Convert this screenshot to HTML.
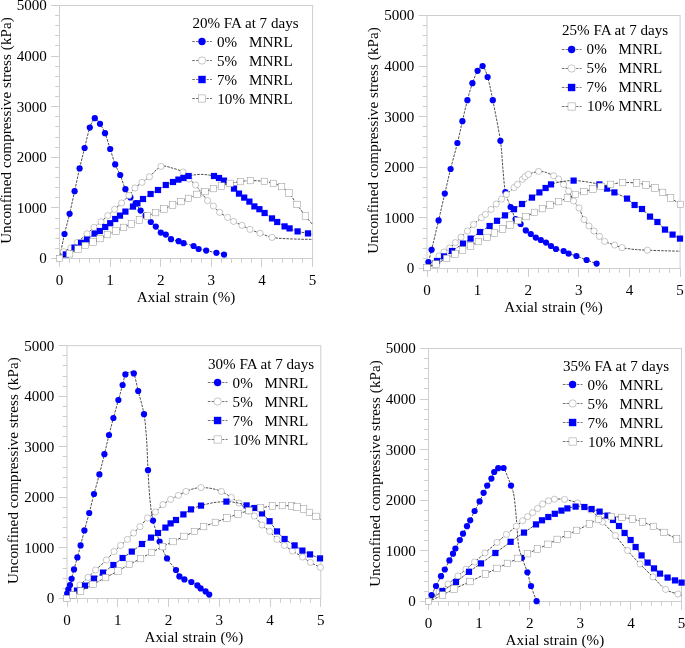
<!DOCTYPE html>
<html><head><meta charset="utf-8"><title>UCS vs axial strain</title>
<style>
html,body{margin:0;padding:0;background:#fff;}
body{width:685px;height:648px;overflow:hidden;}
svg{display:block;will-change:transform;}
text{font-family:"Liberation Serif",serif;font-size:15.1px;fill:#000;}
.ln{fill:none;stroke:#000;stroke-width:0.7;stroke-dasharray:2.55 1.15;}
.ll{fill:none;stroke:#000;stroke-width:0.55;stroke-dasharray:2.7 1.1;}
.lr{fill:none;stroke:#000;stroke-width:0.55;stroke-dasharray:2.2 1.2;}
.om{fill:#fff;stroke:#858585;stroke-width:0.45;}
</style></head><body>
<svg width="685" height="648" viewBox="0 0 685 648">
<rect width="685" height="648" fill="#fff"/>
<g><rect x="59.5" y="5.5" width="253.1" height="253" fill="none" stroke="#cecece" stroke-width="1"/>
<path d="M59.5 258.5h-8.4M59.5 258.5v8.4M59.5 248.5h-4.3M69.5 258.5v4.3M59.5 238.5h-4.3M79.5 258.5v4.3M59.5 228.5h-4.3M89.5 258.5v4.3M59.5 218.5h-4.3M99.5 258.5v4.3M59.5 207.5h-8.4M110.5 258.5v8.4M59.5 197.5h-4.3M120.5 258.5v4.3M59.5 187.5h-4.3M130.5 258.5v4.3M59.5 177.5h-4.3M140.5 258.5v4.3M59.5 167.5h-4.3M150.5 258.5v4.3M59.5 157.5h-8.4M160.5 258.5v8.4M59.5 147.5h-4.3M170.5 258.5v4.3M59.5 137.5h-4.3M180.5 258.5v4.3M59.5 126.5h-4.3M191.5 258.5v4.3M59.5 116.5h-4.3M201.5 258.5v4.3M59.5 106.5h-8.4M211.5 258.5v8.4M59.5 96.5h-4.3M221.5 258.5v4.3M59.5 86.5h-4.3M231.5 258.5v4.3M59.5 76.5h-4.3M241.5 258.5v4.3M59.5 66.5h-4.3M251.5 258.5v4.3M59.5 56.5h-8.4M261.5 258.5v8.4M59.5 45.5h-4.3M272.5 258.5v4.3M59.5 35.5h-4.3M282.5 258.5v4.3M59.5 25.5h-4.3M292.5 258.5v4.3M59.5 15.5h-4.3M302.5 258.5v4.3M59.5 5.5h-8.4M312.5 258.5v8.4" stroke="#cecece" stroke-width="1" fill="none"/>
<text x="46.9" y="263.4" text-anchor="end">0</text>
<text x="59.5" y="285.1" text-anchor="middle">0</text>
<text x="46.9" y="212.8" text-anchor="end">1000</text>
<text x="110.12" y="285.1" text-anchor="middle">1</text>
<text x="46.9" y="162.2" text-anchor="end">2000</text>
<text x="160.74" y="285.1" text-anchor="middle">2</text>
<text x="46.9" y="111.6" text-anchor="end">3000</text>
<text x="211.36" y="285.1" text-anchor="middle">3</text>
<text x="46.9" y="61" text-anchor="end">4000</text>
<text x="261.98" y="285.1" text-anchor="middle">4</text>
<text x="46.9" y="10.4" text-anchor="end">5000</text>
<text x="312.6" y="285.1" text-anchor="middle">5</text>
<text x="186.05" y="301.9" text-anchor="middle" letter-spacing="0.1">Axial strain (%)</text>
<text transform="translate(10.7 130.5) rotate(-90)" text-anchor="middle" letter-spacing="0.07">Unconfined compressive stress (kPa)</text>
<path d="M59.5 258.5C60.3 254.58 62.88 241.15 64.5 234C66.12 226.85 67.98 220.65 69.6 213.8C71.22 206.95 73 198.46 74.6 191.2C76.2 183.94 78 175.31 79.6 168.4C81.2 161.49 82.97 154.53 84.6 148C86.23 141.47 88.17 132.37 89.8 127.6C91.43 122.83 93.17 118.81 94.8 118.2C96.43 117.59 98.37 121.4 100 123.8C101.63 126.2 103.37 129.17 105 133.2C106.63 137.23 108.57 144.01 110.2 149C111.83 153.99 113.6 160.24 115.2 164.4C116.8 168.56 118.57 171.03 120.2 175C121.83 178.97 123.77 185.62 125.4 189.2C127.03 192.78 128.77 195.13 130.4 197.4C132.03 199.67 133.97 201.29 135.6 203.4C137.23 205.51 139 208.65 140.6 210.6C142.2 212.55 143.97 213.78 145.6 215.6C147.23 217.42 149.17 220.24 150.8 222C152.43 223.76 154.2 224.9 155.8 226.6C157.4 228.3 159.2 231.32 160.8 232.6C162.4 233.88 164.17 233.54 165.8 234.6C167.43 235.66 168.95 238.14 171 239.2C173.05 240.26 176.58 240.56 178.6 241.2C180.62 241.84 181.2 242.43 183.6 243.2C186 243.97 191.2 245.07 193.6 246C196 246.93 196.58 248.26 198.6 249C200.62 249.74 203.35 249.99 206.2 250.6C209.05 251.21 213.55 252.16 216.4 252.8C219.25 253.44 222.3 253.77 224 254.6C225.7 255.43 226.52 257.46 227 258" class="ln"/>
<circle cx="64.5" cy="234" r="3.12" fill="#0000ff"/><circle cx="69.6" cy="213.8" r="3.12" fill="#0000ff"/><circle cx="74.6" cy="191.2" r="3.12" fill="#0000ff"/><circle cx="79.6" cy="168.4" r="3.12" fill="#0000ff"/><circle cx="84.6" cy="148" r="3.12" fill="#0000ff"/><circle cx="89.8" cy="127.6" r="3.12" fill="#0000ff"/><circle cx="94.8" cy="118.2" r="3.12" fill="#0000ff"/><circle cx="100" cy="123.8" r="3.12" fill="#0000ff"/><circle cx="105" cy="133.2" r="3.12" fill="#0000ff"/><circle cx="110.2" cy="149" r="3.12" fill="#0000ff"/><circle cx="115.2" cy="164.4" r="3.12" fill="#0000ff"/><circle cx="120.2" cy="175" r="3.12" fill="#0000ff"/><circle cx="125.4" cy="189.2" r="3.12" fill="#0000ff"/><circle cx="130.4" cy="197.4" r="3.12" fill="#0000ff"/><circle cx="135.6" cy="203.4" r="3.12" fill="#0000ff"/><circle cx="140.6" cy="210.6" r="3.12" fill="#0000ff"/><circle cx="145.6" cy="215.6" r="3.12" fill="#0000ff"/><circle cx="150.8" cy="222" r="3.12" fill="#0000ff"/><circle cx="155.8" cy="226.6" r="3.12" fill="#0000ff"/><circle cx="160.8" cy="232.6" r="3.12" fill="#0000ff"/><circle cx="165.8" cy="234.6" r="3.12" fill="#0000ff"/><circle cx="171" cy="239.2" r="3.12" fill="#0000ff"/><circle cx="178.6" cy="241.2" r="3.12" fill="#0000ff"/><circle cx="183.6" cy="243.2" r="3.12" fill="#0000ff"/><circle cx="193.6" cy="246" r="3.12" fill="#0000ff"/><circle cx="198.6" cy="249" r="3.12" fill="#0000ff"/><circle cx="206.2" cy="250.6" r="3.12" fill="#0000ff"/><circle cx="216.4" cy="252.8" r="3.12" fill="#0000ff"/><circle cx="224" cy="254.6" r="3.12" fill="#0000ff"/>
<path d="M59.5 258.5C60.14 257.43 61.69 253.48 63.5 251.8C65.31 250.12 68.58 249.5 70.8 248C73.02 246.5 74.81 244.67 77.4 242.4C79.99 240.13 84.34 236.2 87 233.8C89.66 231.4 91.76 229.32 94 227.4C96.24 225.48 98.79 223.69 101 221.8C103.21 219.91 105.62 217.58 107.8 215.6C109.98 213.62 112.39 211.42 114.6 209.4C116.81 207.38 119.3 205.24 121.6 203C123.9 200.76 126.86 197.8 129 195.4C131.14 193 132.92 190.08 135 188C137.08 185.92 139.7 184.19 142 182.4C144.3 180.61 146.36 179.36 149.4 176.8C152.44 174.24 157.38 167.81 161 166.4C164.62 164.99 168.48 167.1 172 168C175.52 168.9 180.28 170.24 183 172C185.72 173.76 186.98 176.92 189 179C191.02 181.08 193.58 182.76 195.6 185C197.62 187.24 199.68 190.5 201.6 193C203.52 195.5 205.71 198.52 207.6 200.6C209.49 202.68 211.48 204.11 213.4 206C215.32 207.89 217.33 210.58 219.6 212.4C221.87 214.22 225.36 215.96 227.6 217.4C229.84 218.84 231.3 220.12 233.6 221.4C235.9 222.68 239.38 224.12 242 225.4C244.62 226.68 247.12 228.15 250 229.4C252.88 230.65 256.48 231.92 260 233.2C263.52 234.48 268 236.54 272 237.4C276 238.26 280.52 238.31 285 238.6C289.48 238.89 295.58 239.07 300 239.2C304.42 239.33 310.58 239.37 312.6 239.4" class="ln"/>
<circle cx="63.5" cy="251.8" r="3.1" class="om"/><circle cx="70.8" cy="248" r="3.1" class="om"/><circle cx="77.4" cy="242.4" r="3.1" class="om"/><circle cx="87" cy="233.8" r="3.1" class="om"/><circle cx="94" cy="227.4" r="3.1" class="om"/><circle cx="101" cy="221.8" r="3.1" class="om"/><circle cx="107.8" cy="215.6" r="3.1" class="om"/><circle cx="114.6" cy="209.4" r="3.1" class="om"/><circle cx="121.6" cy="203" r="3.1" class="om"/><circle cx="129" cy="195.4" r="3.1" class="om"/><circle cx="135" cy="188" r="3.1" class="om"/><circle cx="142" cy="182.4" r="3.1" class="om"/><circle cx="149.4" cy="176.8" r="3.1" class="om"/><circle cx="161" cy="166.4" r="3.1" class="om"/><circle cx="183" cy="172" r="3.1" class="om"/><circle cx="189" cy="179" r="3.1" class="om"/><circle cx="195.6" cy="185" r="3.1" class="om"/><circle cx="201.6" cy="193" r="3.1" class="om"/><circle cx="207.6" cy="200.6" r="3.1" class="om"/><circle cx="213.4" cy="206" r="3.1" class="om"/><circle cx="219.6" cy="212.4" r="3.1" class="om"/><circle cx="227.6" cy="217.4" r="3.1" class="om"/><circle cx="233.6" cy="221.4" r="3.1" class="om"/><circle cx="242" cy="225.4" r="3.1" class="om"/><circle cx="250" cy="229.4" r="3.1" class="om"/><circle cx="260" cy="233.2" r="3.1" class="om"/><circle cx="272" cy="237.4" r="3.1" class="om"/>
<path d="M59.5 258.5C60.51 257.84 63.4 256.14 65.8 254.4C68.2 252.66 72.07 249.46 74.5 247.6C76.93 245.74 79 244.08 81 242.8C83 241.52 84.82 241.07 87 239.6C89.18 238.13 92.55 234.98 94.6 233.6C96.65 232.22 98.1 232.06 99.8 231C101.5 229.94 103.54 228.25 105.2 227C106.86 225.75 108.6 224.48 110.2 223.2C111.8 221.92 113.63 220.22 115.2 219C116.77 217.78 118.37 216.78 120 215.6C121.63 214.42 123.32 213.04 125.4 211.6C127.48 210.16 131.08 207.94 133 206.6C134.92 205.26 135.8 204.42 137.4 203.2C139 201.98 140.89 200.47 143 199C145.11 197.53 148.2 195.44 150.6 194C153 192.56 155.57 191.44 158 190C160.43 188.56 163.4 186.28 165.8 185C168.2 183.72 170.98 182.86 173 182C175.02 181.14 176.74 180.24 178.4 179.6C180.06 178.96 181.77 178.58 183.4 178C185.03 177.42 186.74 176.51 188.6 176C190.46 175.49 193.02 175.06 195 174.8C196.98 174.54 198.92 174.38 201 174.4C203.08 174.42 205.92 174.64 208 174.9C210.08 175.16 212.24 175.5 214 176C215.76 176.5 217.4 177.26 219 178C220.6 178.74 221.6 178.9 224 180.6C226.4 182.3 231.6 186.52 234 188.6C236.4 190.68 237.37 192.16 239 193.6C240.63 195.04 242.54 196.32 244.2 197.6C245.86 198.88 247.77 200.19 249.4 201.6C251.03 203.01 252.8 205.18 254.4 206.4C256 207.62 257.77 208.14 259.4 209.2C261.03 210.26 262.58 211.53 264.6 213C266.62 214.47 269.98 216.96 272 218.4C274.02 219.84 275.18 220.72 277.2 222C279.22 223.28 282.62 225.38 284.6 226.4C286.58 227.42 287.52 227.6 289.6 228.4C291.68 229.2 294.66 230.6 297.6 231.4C300.54 232.2 305.6 232.92 308 233.4C310.4 233.88 311.86 234.24 312.6 234.4" class="ln"/>
<rect x="62.7" y="251.3" width="6.2" height="6.2" fill="#0000ff"/><rect x="71.4" y="244.5" width="6.2" height="6.2" fill="#0000ff"/><rect x="77.9" y="239.7" width="6.2" height="6.2" fill="#0000ff"/><rect x="83.9" y="236.5" width="6.2" height="6.2" fill="#0000ff"/><rect x="91.5" y="230.5" width="6.2" height="6.2" fill="#0000ff"/><rect x="96.7" y="227.9" width="6.2" height="6.2" fill="#0000ff"/><rect x="102.1" y="223.9" width="6.2" height="6.2" fill="#0000ff"/><rect x="107.1" y="220.1" width="6.2" height="6.2" fill="#0000ff"/><rect x="112.1" y="215.9" width="6.2" height="6.2" fill="#0000ff"/><rect x="116.9" y="212.5" width="6.2" height="6.2" fill="#0000ff"/><rect x="122.3" y="208.5" width="6.2" height="6.2" fill="#0000ff"/><rect x="129.9" y="203.5" width="6.2" height="6.2" fill="#0000ff"/><rect x="134.3" y="200.1" width="6.2" height="6.2" fill="#0000ff"/><rect x="139.9" y="195.9" width="6.2" height="6.2" fill="#0000ff"/><rect x="147.5" y="190.9" width="6.2" height="6.2" fill="#0000ff"/><rect x="154.9" y="186.9" width="6.2" height="6.2" fill="#0000ff"/><rect x="162.7" y="181.9" width="6.2" height="6.2" fill="#0000ff"/><rect x="169.9" y="178.9" width="6.2" height="6.2" fill="#0000ff"/><rect x="175.3" y="176.5" width="6.2" height="6.2" fill="#0000ff"/><rect x="180.3" y="174.9" width="6.2" height="6.2" fill="#0000ff"/><rect x="185.5" y="172.9" width="6.2" height="6.2" fill="#0000ff"/><rect x="210.9" y="172.9" width="6.2" height="6.2" fill="#0000ff"/><rect x="215.9" y="174.9" width="6.2" height="6.2" fill="#0000ff"/><rect x="220.9" y="177.5" width="6.2" height="6.2" fill="#0000ff"/><rect x="230.9" y="185.5" width="6.2" height="6.2" fill="#0000ff"/><rect x="235.9" y="190.5" width="6.2" height="6.2" fill="#0000ff"/><rect x="241.1" y="194.5" width="6.2" height="6.2" fill="#0000ff"/><rect x="246.3" y="198.5" width="6.2" height="6.2" fill="#0000ff"/><rect x="251.3" y="203.3" width="6.2" height="6.2" fill="#0000ff"/><rect x="256.3" y="206.1" width="6.2" height="6.2" fill="#0000ff"/><rect x="261.5" y="209.9" width="6.2" height="6.2" fill="#0000ff"/><rect x="268.9" y="215.3" width="6.2" height="6.2" fill="#0000ff"/><rect x="274.1" y="218.9" width="6.2" height="6.2" fill="#0000ff"/><rect x="281.5" y="223.3" width="6.2" height="6.2" fill="#0000ff"/><rect x="286.5" y="225.3" width="6.2" height="6.2" fill="#0000ff"/><rect x="294.5" y="228.3" width="6.2" height="6.2" fill="#0000ff"/><rect x="304.9" y="230.3" width="6.2" height="6.2" fill="#0000ff"/>
<path d="M59.5 258.5C61.12 257.75 66.64 255.32 69.6 253.8C72.56 252.28 75.5 250.33 78 249C80.5 247.67 82.8 246.62 85.2 245.5C87.6 244.38 90.63 243.1 93 242C95.37 240.9 97.7 239.78 100 238.6C102.3 237.42 104.84 235.82 107.4 234.6C109.96 233.38 113.41 232.15 116 231C118.59 229.85 121.14 228.52 123.6 227.4C126.06 226.28 128.87 225.18 131.4 224C133.93 222.82 136.84 221.28 139.4 220C141.96 218.72 144.81 217.18 147.4 216C149.99 214.82 152.94 213.72 155.6 212.6C158.26 211.48 161.28 210.22 164 209C166.72 207.78 169.88 206.18 172.6 205C175.32 203.82 178.46 202.66 181 201.6C183.54 200.54 185.94 199.55 188.5 198.4C191.06 197.25 194.36 195.49 197 194.4C199.64 193.31 202.38 192.53 205 191.6C207.62 190.67 210.78 189.5 213.4 188.6C216.02 187.7 218.74 186.83 221.4 186C224.06 185.17 226.96 184.1 230 183.4C233.04 182.7 237.14 182.05 240.4 181.6C243.66 181.15 246.56 180.63 250.4 180.6C254.24 180.57 260.72 180.95 264.4 181.4C268.08 181.85 270.65 182.57 273.4 183.4C276.15 184.23 279.1 185.06 281.6 186.6C284.1 188.14 286.54 190.15 289 193C291.46 195.85 294.38 200.72 297 204.4C299.62 208.08 302.9 212.77 305.4 216C307.9 219.23 311.45 223.22 312.6 224.6" class="ln"/>
<rect x="56.25" y="255.25" width="6.5" height="6.5" class="om"/><rect x="66.35" y="250.55" width="6.5" height="6.5" class="om"/><rect x="74.75" y="245.75" width="6.5" height="6.5" class="om"/><rect x="81.95" y="242.25" width="6.5" height="6.5" class="om"/><rect x="89.75" y="238.75" width="6.5" height="6.5" class="om"/><rect x="96.75" y="235.35" width="6.5" height="6.5" class="om"/><rect x="104.15" y="231.35" width="6.5" height="6.5" class="om"/><rect x="112.75" y="227.75" width="6.5" height="6.5" class="om"/><rect x="120.35" y="224.15" width="6.5" height="6.5" class="om"/><rect x="128.15" y="220.75" width="6.5" height="6.5" class="om"/><rect x="136.15" y="216.75" width="6.5" height="6.5" class="om"/><rect x="144.15" y="212.75" width="6.5" height="6.5" class="om"/><rect x="152.35" y="209.35" width="6.5" height="6.5" class="om"/><rect x="160.75" y="205.75" width="6.5" height="6.5" class="om"/><rect x="169.35" y="201.75" width="6.5" height="6.5" class="om"/><rect x="177.75" y="198.35" width="6.5" height="6.5" class="om"/><rect x="185.25" y="195.15" width="6.5" height="6.5" class="om"/><rect x="193.75" y="191.15" width="6.5" height="6.5" class="om"/><rect x="201.75" y="188.35" width="6.5" height="6.5" class="om"/><rect x="210.15" y="185.35" width="6.5" height="6.5" class="om"/><rect x="218.15" y="182.75" width="6.5" height="6.5" class="om"/><rect x="226.75" y="180.15" width="6.5" height="6.5" class="om"/><rect x="237.15" y="178.35" width="6.5" height="6.5" class="om"/><rect x="247.15" y="177.35" width="6.5" height="6.5" class="om"/><rect x="261.15" y="178.15" width="6.5" height="6.5" class="om"/><rect x="270.15" y="180.15" width="6.5" height="6.5" class="om"/><rect x="278.35" y="183.35" width="6.5" height="6.5" class="om"/><rect x="285.75" y="189.75" width="6.5" height="6.5" class="om"/><rect x="293.75" y="201.15" width="6.5" height="6.5" class="om"/><rect x="302.15" y="212.75" width="6.5" height="6.5" class="om"/>
<text x="192.4" y="27.6">20% FA at 7 days</text>
<path d="M192.2 41.5h7" class="ll"/>
<path d="M206.6 41.5h5.3" class="lr"/>
<circle cx="202" cy="41.5" r="3.7" fill="#0000ff"/>
<text x="217" y="46.6">0%</text>
<text x="249" y="46.6">MNRL</text>
<path d="M192.2 60.5h7" class="ll"/>
<path d="M206.6 60.5h5.3" class="lr"/>
<circle cx="202" cy="60.5" r="3.65" class="om"/>
<text x="217" y="65.6">5%</text>
<text x="249" y="65.6">MNRL</text>
<path d="M192.2 79.5h7" class="ll"/>
<path d="M206.6 79.5h5.3" class="lr"/>
<rect x="198.3" y="75.8" width="7.4" height="7.4" fill="#0000ff"/>
<text x="217" y="84.6">7%</text>
<text x="249" y="84.6">MNRL</text>
<path d="M192.2 98.5h7" class="ll"/>
<path d="M206.6 98.5h5.3" class="lr"/>
<rect x="198.4" y="94.9" width="7.2" height="7.2" class="om"/>
<text x="217.3" y="103.6">10%</text>
<text x="249" y="103.6">MNRL</text></g>
<g><rect x="427" y="15.5" width="253.1" height="253" fill="none" stroke="#cecece" stroke-width="1"/>
<path d="M427 268.5h-8.4M427.5 268.5v8.4M427 258.5h-4.3M437.5 268.5v4.3M427 248.5h-4.3M447.5 268.5v4.3M427 238.5h-4.3M457.5 268.5v4.3M427 228.5h-4.3M467.5 268.5v4.3M427 217.5h-8.4M477.5 268.5v8.4M427 207.5h-4.3M487.5 268.5v4.3M427 197.5h-4.3M497.5 268.5v4.3M427 187.5h-4.3M507.5 268.5v4.3M427 177.5h-4.3M518.5 268.5v4.3M427 167.5h-8.4M528.5 268.5v8.4M427 157.5h-4.3M538.5 268.5v4.3M427 147.5h-4.3M548.5 268.5v4.3M427 136.5h-4.3M558.5 268.5v4.3M427 126.5h-4.3M568.5 268.5v4.3M427 116.5h-8.4M578.5 268.5v8.4M427 106.5h-4.3M588.5 268.5v4.3M427 96.5h-4.3M599.5 268.5v4.3M427 86.5h-4.3M609.5 268.5v4.3M427 76.5h-4.3M619.5 268.5v4.3M427 66.5h-8.4M629.5 268.5v8.4M427 55.5h-4.3M639.5 268.5v4.3M427 45.5h-4.3M649.5 268.5v4.3M427 35.5h-4.3M659.5 268.5v4.3M427 25.5h-4.3M669.5 268.5v4.3M427 15.5h-8.4M680.5 268.5v8.4" stroke="#cecece" stroke-width="1" fill="none"/>
<text x="414.4" y="273.4" text-anchor="end">0</text>
<text x="427" y="295.1" text-anchor="middle">0</text>
<text x="414.4" y="222.8" text-anchor="end">1000</text>
<text x="477.62" y="295.1" text-anchor="middle">1</text>
<text x="414.4" y="172.2" text-anchor="end">2000</text>
<text x="528.24" y="295.1" text-anchor="middle">2</text>
<text x="414.4" y="121.6" text-anchor="end">3000</text>
<text x="578.86" y="295.1" text-anchor="middle">3</text>
<text x="414.4" y="71" text-anchor="end">4000</text>
<text x="629.48" y="295.1" text-anchor="middle">4</text>
<text x="414.4" y="20.4" text-anchor="end">5000</text>
<text x="680.1" y="295.1" text-anchor="middle">5</text>
<text x="553.55" y="311.9" text-anchor="middle" letter-spacing="0.1">Axial strain (%)</text>
<text transform="translate(378.2 140.5) rotate(-90)" text-anchor="middle" letter-spacing="0.07">Unconfined compressive stress (kPa)</text>
<path d="M427 268.5C427.22 267.46 427.66 264.99 428.4 262C429.14 259.01 429.97 256.46 431.6 249.8C433.23 243.14 436.49 229.39 438.6 220.4C440.71 211.41 442.88 201.82 444.8 193.6C446.72 185.38 448.58 177.1 450.6 169C452.62 160.9 455.51 150.65 457.4 143C459.29 135.35 460.8 128.05 462.4 121.2C464 114.35 465.8 106.28 467.4 100.2C469 94.12 470.77 87.9 472.4 83.2C474.03 78.5 475.97 73.55 477.6 70.8C479.23 68.05 481 65.01 482.6 66C484.2 66.99 485.97 71.53 487.6 77C489.23 82.47 490.75 89.99 492.8 100.2C494.85 110.41 498.77 129.63 500.4 140.8C502.03 151.97 502.2 161.81 503 170C503.8 178.19 504.18 186.08 505.4 192C506.62 197.92 508.97 202.68 510.6 207C512.23 211.32 514 216.28 515.6 219C517.2 221.72 518.97 222.18 520.6 224C522.23 225.82 524.17 228.8 525.8 230.4C527.43 232 529.2 232.85 530.8 234C532.4 235.15 534.2 236.64 535.8 237.6C537.4 238.56 539.17 239.2 540.8 240C542.43 240.8 544.37 241.64 546 242.6C547.63 243.56 549.4 244.98 551 246C552.6 247.02 553.98 248.2 556 249C558.02 249.8 561.58 250.26 563.6 251C565.62 251.74 566.55 252.8 568.6 253.6C570.65 254.4 573.52 254.98 576.4 256C579.28 257.02 583.37 258.78 586.6 260C589.83 261.22 595 263.02 596.6 263.6" class="ln"/>
<circle cx="428.4" cy="262" r="3.12" fill="#0000ff"/><circle cx="431.6" cy="249.8" r="3.12" fill="#0000ff"/><circle cx="438.6" cy="220.4" r="3.12" fill="#0000ff"/><circle cx="444.8" cy="193.6" r="3.12" fill="#0000ff"/><circle cx="450.6" cy="169" r="3.12" fill="#0000ff"/><circle cx="457.4" cy="143" r="3.12" fill="#0000ff"/><circle cx="462.4" cy="121.2" r="3.12" fill="#0000ff"/><circle cx="467.4" cy="100.2" r="3.12" fill="#0000ff"/><circle cx="472.4" cy="83.2" r="3.12" fill="#0000ff"/><circle cx="477.6" cy="70.8" r="3.12" fill="#0000ff"/><circle cx="482.6" cy="66" r="3.12" fill="#0000ff"/><circle cx="487.6" cy="77" r="3.12" fill="#0000ff"/><circle cx="492.8" cy="100.2" r="3.12" fill="#0000ff"/><circle cx="500.4" cy="140.8" r="3.12" fill="#0000ff"/><circle cx="505.4" cy="192" r="3.12" fill="#0000ff"/><circle cx="510.6" cy="207" r="3.12" fill="#0000ff"/><circle cx="515.6" cy="219" r="3.12" fill="#0000ff"/><circle cx="520.6" cy="224" r="3.12" fill="#0000ff"/><circle cx="525.8" cy="230.4" r="3.12" fill="#0000ff"/><circle cx="530.8" cy="234" r="3.12" fill="#0000ff"/><circle cx="535.8" cy="237.6" r="3.12" fill="#0000ff"/><circle cx="540.8" cy="240" r="3.12" fill="#0000ff"/><circle cx="546" cy="242.6" r="3.12" fill="#0000ff"/><circle cx="551" cy="246" r="3.12" fill="#0000ff"/><circle cx="556" cy="249" r="3.12" fill="#0000ff"/><circle cx="563.6" cy="251" r="3.12" fill="#0000ff"/><circle cx="568.6" cy="253.6" r="3.12" fill="#0000ff"/><circle cx="576.4" cy="256" r="3.12" fill="#0000ff"/><circle cx="586.6" cy="260" r="3.12" fill="#0000ff"/><circle cx="596.6" cy="263.6" r="3.12" fill="#0000ff"/>
<path d="M427 268.5C427.8 267.46 430.08 264 432 262C433.92 260 437.08 257.6 439 256C440.92 254.4 442.3 253.28 444 252C445.7 250.72 447.78 249.5 449.6 248C451.42 246.5 453.58 244.33 455.4 242.6C457.22 240.87 459.08 239.06 461 237.2C462.92 235.34 465.38 233.05 467.4 231C469.42 228.95 471.36 226.54 473.6 224.4C475.84 222.26 479.51 219.2 481.4 217.6C483.29 216 483.86 215.71 485.4 214.4C486.94 213.09 489.27 211.06 491 209.4C492.73 207.74 494.5 205.66 496.2 204C497.9 202.34 499.97 200.54 501.6 199C503.23 197.46 504.42 196.22 506.4 194.4C508.38 192.58 512.24 189.2 514 187.6C515.76 186 516.06 185.71 517.4 184.4C518.74 183.09 521.18 180.62 522.4 179.4C523.62 178.18 524.04 177.6 525 176.8C525.96 176 526.22 175.26 528.4 174.4C530.58 173.54 535.7 171.69 538.6 171.4C541.5 171.11 544.1 171.9 546.5 172.6C548.9 173.3 551.66 174.78 553.6 175.8C555.54 176.82 557 177.62 558.6 179C560.2 180.38 562 182.48 563.6 184.4C565.2 186.32 567 188.34 568.6 191C570.2 193.66 571.94 198.28 573.6 201C575.26 203.72 577.34 205.02 579 208C580.66 210.98 582.4 216.72 584 219.6C585.6 222.48 587.4 224.18 589 226C590.6 227.82 592.34 229.34 594 231C595.66 232.66 597.7 234.74 599.4 236.4C601.1 238.06 602.17 240.02 604.6 241.4C607.03 242.78 611.82 244.01 614.6 245C617.38 245.99 618.9 246.9 622 247.6C625.1 248.3 629.94 248.98 634 249.4C638.06 249.82 642.44 249.98 647.4 250.2C652.36 250.42 659.78 250.64 665 250.8C670.22 250.96 677.6 251.14 680 251.2" class="ln"/>
<circle cx="439" cy="256" r="3.1" class="om"/><circle cx="444" cy="252" r="3.1" class="om"/><circle cx="449.6" cy="248" r="3.1" class="om"/><circle cx="455.4" cy="242.6" r="3.1" class="om"/><circle cx="461" cy="237.2" r="3.1" class="om"/><circle cx="467.4" cy="231" r="3.1" class="om"/><circle cx="473.6" cy="224.4" r="3.1" class="om"/><circle cx="481.4" cy="217.6" r="3.1" class="om"/><circle cx="485.4" cy="214.4" r="3.1" class="om"/><circle cx="491" cy="209.4" r="3.1" class="om"/><circle cx="496.2" cy="204" r="3.1" class="om"/><circle cx="501.6" cy="199" r="3.1" class="om"/><circle cx="506.4" cy="194.4" r="3.1" class="om"/><circle cx="514" cy="187.6" r="3.1" class="om"/><circle cx="517.4" cy="184.4" r="3.1" class="om"/><circle cx="522.4" cy="179.4" r="3.1" class="om"/><circle cx="525" cy="176.8" r="3.1" class="om"/><circle cx="528.4" cy="174.4" r="3.1" class="om"/><circle cx="538.6" cy="171.4" r="3.1" class="om"/><circle cx="553.6" cy="175.8" r="3.1" class="om"/><circle cx="558.6" cy="179" r="3.1" class="om"/><circle cx="563.6" cy="184.4" r="3.1" class="om"/><circle cx="568.6" cy="191" r="3.1" class="om"/><circle cx="573.6" cy="201" r="3.1" class="om"/><circle cx="579" cy="208" r="3.1" class="om"/><circle cx="584" cy="219.6" r="3.1" class="om"/><circle cx="589" cy="226" r="3.1" class="om"/><circle cx="594" cy="231" r="3.1" class="om"/><circle cx="599.4" cy="236.4" r="3.1" class="om"/><circle cx="604.6" cy="241.4" r="3.1" class="om"/><circle cx="614.6" cy="245" r="3.1" class="om"/><circle cx="622" cy="247.6" r="3.1" class="om"/><circle cx="647.4" cy="250.2" r="3.1" class="om"/>
<path d="M427 268.5C428.6 267.3 434.28 262.94 437 261C439.72 259.06 441.6 258 444 256.4C446.4 254.8 448.96 253.05 452 251C455.04 248.95 460.02 245.58 463 243.6C465.98 241.62 467.88 240.46 470.6 238.6C473.32 236.74 476.96 234.02 480 232C483.04 229.98 486.88 227.79 489.6 226C492.32 224.21 494.54 222.5 497 220.8C499.46 219.1 502.28 217.26 505 215.4C507.72 213.54 511.28 211.02 514 209.2C516.72 207.38 519.12 205.86 522 204C524.88 202.14 529.22 199.46 532 197.6C534.78 195.74 537.22 193.94 539.4 192.4C541.58 190.86 543.74 189.28 545.6 188C547.46 186.72 549.02 185.3 551 184.4C552.98 183.5 555.6 182.94 558 182.4C560.4 181.86 563.5 181.29 566 181C568.5 180.71 571.04 180.57 573.6 180.6C576.16 180.63 579.22 180.88 582 181.2C584.78 181.52 588.22 182.09 591 182.6C593.78 183.11 596.84 183.44 599.4 184.4C601.96 185.36 604.6 187.32 607 188.6C609.4 189.88 611.2 190.8 614.4 192.4C617.6 194 623.77 196.58 627 198.6C630.23 200.62 632.2 203.34 634.6 205C637 206.66 639.54 207.14 642 209C644.46 210.86 647.54 214.52 650 216.6C652.46 218.68 655 219.92 657.4 222C659.8 224.08 662.57 227.58 665 229.6C667.43 231.62 670.2 233.16 672.6 234.6C675 236.04 678.82 237.96 680 238.6" class="ln"/>
<rect x="433.9" y="257.9" width="6.2" height="6.2" fill="#0000ff"/><rect x="440.9" y="253.3" width="6.2" height="6.2" fill="#0000ff"/><rect x="448.9" y="247.9" width="6.2" height="6.2" fill="#0000ff"/><rect x="459.9" y="240.5" width="6.2" height="6.2" fill="#0000ff"/><rect x="467.5" y="235.5" width="6.2" height="6.2" fill="#0000ff"/><rect x="476.9" y="228.9" width="6.2" height="6.2" fill="#0000ff"/><rect x="486.5" y="222.9" width="6.2" height="6.2" fill="#0000ff"/><rect x="493.9" y="217.7" width="6.2" height="6.2" fill="#0000ff"/><rect x="501.9" y="212.3" width="6.2" height="6.2" fill="#0000ff"/><rect x="510.9" y="206.1" width="6.2" height="6.2" fill="#0000ff"/><rect x="518.9" y="200.9" width="6.2" height="6.2" fill="#0000ff"/><rect x="528.9" y="194.5" width="6.2" height="6.2" fill="#0000ff"/><rect x="536.3" y="189.3" width="6.2" height="6.2" fill="#0000ff"/><rect x="542.5" y="184.9" width="6.2" height="6.2" fill="#0000ff"/><rect x="547.9" y="181.3" width="6.2" height="6.2" fill="#0000ff"/><rect x="570.5" y="177.5" width="6.2" height="6.2" fill="#0000ff"/><rect x="596.3" y="181.3" width="6.2" height="6.2" fill="#0000ff"/><rect x="603.9" y="185.5" width="6.2" height="6.2" fill="#0000ff"/><rect x="611.3" y="189.3" width="6.2" height="6.2" fill="#0000ff"/><rect x="623.9" y="195.5" width="6.2" height="6.2" fill="#0000ff"/><rect x="631.5" y="201.9" width="6.2" height="6.2" fill="#0000ff"/><rect x="638.9" y="205.9" width="6.2" height="6.2" fill="#0000ff"/><rect x="646.9" y="213.5" width="6.2" height="6.2" fill="#0000ff"/><rect x="654.3" y="218.9" width="6.2" height="6.2" fill="#0000ff"/><rect x="661.9" y="226.5" width="6.2" height="6.2" fill="#0000ff"/><rect x="669.5" y="231.5" width="6.2" height="6.2" fill="#0000ff"/><rect x="676.9" y="235.5" width="6.2" height="6.2" fill="#0000ff"/>
<path d="M427 267.6C428.44 267.02 432.86 265.47 436 264C439.14 262.53 443.56 260 446.6 258.4C449.64 256.8 452.44 255.34 455 254C457.56 252.66 460.1 251.28 462.6 250C465.1 248.72 468.07 247.34 470.6 246C473.13 244.66 475.78 242.98 478.4 241.6C481.02 240.22 484.44 238.78 487 237.4C489.56 236.02 491.9 234.34 494.4 233C496.9 231.66 500.1 230.28 502.6 229C505.1 227.72 507.54 226.34 510 225C512.46 223.66 515.44 221.94 518 220.6C520.56 219.26 523.38 217.91 526 216.6C528.62 215.29 531.78 213.68 534.4 212.4C537.02 211.12 539.9 209.78 542.4 208.6C544.9 207.42 547.41 206.12 550 205C552.59 203.88 555.82 202.72 558.6 201.6C561.38 200.48 564.71 199.15 567.4 198C570.09 196.85 572.74 195.42 575.4 194.4C578.06 193.38 581.18 192.46 584 191.6C586.82 190.74 590.28 189.83 593 189C595.72 188.17 598.18 187.14 601 186.4C603.82 185.66 607.14 185.01 610.6 184.4C614.06 183.79 618.44 182.82 622.6 182.6C626.76 182.38 632.86 182.62 636.6 183C640.34 183.38 643.06 184.2 646 185C648.94 185.8 652.34 186.82 655 188C657.66 189.18 660.1 190.8 662.6 192.4C665.1 194 667.75 196.08 670.6 198C673.45 199.92 678.83 203.38 680.4 204.4" class="ln"/>
<rect x="423.75" y="264.35" width="6.5" height="6.5" class="om"/><rect x="432.75" y="260.75" width="6.5" height="6.5" class="om"/><rect x="443.35" y="255.15" width="6.5" height="6.5" class="om"/><rect x="451.75" y="250.75" width="6.5" height="6.5" class="om"/><rect x="459.35" y="246.75" width="6.5" height="6.5" class="om"/><rect x="467.35" y="242.75" width="6.5" height="6.5" class="om"/><rect x="475.15" y="238.35" width="6.5" height="6.5" class="om"/><rect x="483.75" y="234.15" width="6.5" height="6.5" class="om"/><rect x="491.15" y="229.75" width="6.5" height="6.5" class="om"/><rect x="499.35" y="225.75" width="6.5" height="6.5" class="om"/><rect x="506.75" y="221.75" width="6.5" height="6.5" class="om"/><rect x="514.75" y="217.35" width="6.5" height="6.5" class="om"/><rect x="522.75" y="213.35" width="6.5" height="6.5" class="om"/><rect x="531.15" y="209.15" width="6.5" height="6.5" class="om"/><rect x="539.15" y="205.35" width="6.5" height="6.5" class="om"/><rect x="546.75" y="201.75" width="6.5" height="6.5" class="om"/><rect x="555.35" y="198.35" width="6.5" height="6.5" class="om"/><rect x="564.15" y="194.75" width="6.5" height="6.5" class="om"/><rect x="572.15" y="191.15" width="6.5" height="6.5" class="om"/><rect x="580.75" y="188.35" width="6.5" height="6.5" class="om"/><rect x="589.75" y="185.75" width="6.5" height="6.5" class="om"/><rect x="597.75" y="183.15" width="6.5" height="6.5" class="om"/><rect x="607.35" y="181.15" width="6.5" height="6.5" class="om"/><rect x="619.35" y="179.35" width="6.5" height="6.5" class="om"/><rect x="633.35" y="179.75" width="6.5" height="6.5" class="om"/><rect x="642.75" y="181.75" width="6.5" height="6.5" class="om"/><rect x="651.75" y="184.75" width="6.5" height="6.5" class="om"/><rect x="659.35" y="189.15" width="6.5" height="6.5" class="om"/><rect x="667.35" y="194.75" width="6.5" height="6.5" class="om"/><rect x="677.15" y="201.15" width="6.5" height="6.5" class="om"/>
<text x="562" y="35.4">25% FA at 7 days</text>
<path d="M561.8 49.5h7" class="ll"/>
<path d="M576.2 49.5h5.3" class="lr"/>
<circle cx="571.6" cy="49.5" r="3.7" fill="#0000ff"/>
<text x="586.6" y="54.4">0%</text>
<text x="618.6" y="54.4">MNRL</text>
<path d="M561.8 68.5h7" class="ll"/>
<path d="M576.2 68.5h5.3" class="lr"/>
<circle cx="571.6" cy="68.5" r="3.65" class="om"/>
<text x="586.6" y="73.4">5%</text>
<text x="618.6" y="73.4">MNRL</text>
<path d="M561.8 87.5h7" class="ll"/>
<path d="M576.2 87.5h5.3" class="lr"/>
<rect x="567.9" y="83.8" width="7.4" height="7.4" fill="#0000ff"/>
<text x="586.6" y="92.4">7%</text>
<text x="618.6" y="92.4">MNRL</text>
<path d="M561.8 106.5h7" class="ll"/>
<path d="M576.2 106.5h5.3" class="lr"/>
<rect x="568" y="102.9" width="7.2" height="7.2" class="om"/>
<text x="586.9" y="111.4">10%</text>
<text x="618.6" y="111.4">MNRL</text></g>
<g><rect x="67" y="345.7" width="253.8" height="252.8" fill="none" stroke="#cecece" stroke-width="1"/>
<path d="M67 598.5h-8.4M67.5 598.5v8.4M67 588.5h-4.3M77.5 598.5v4.3M67 578.5h-4.3M87.5 598.5v4.3M67 568.5h-4.3M97.5 598.5v4.3M67 558.5h-4.3M107.5 598.5v4.3M67 547.5h-8.4M117.5 598.5v8.4M67 537.5h-4.3M127.5 598.5v4.3M67 527.5h-4.3M138.5 598.5v4.3M67 517.5h-4.3M148.5 598.5v4.3M67 507.5h-4.3M158.5 598.5v4.3M67 497.5h-8.4M168.5 598.5v8.4M67 487.5h-4.3M178.5 598.5v4.3M67 477.5h-4.3M188.5 598.5v4.3M67 467.5h-4.3M198.5 598.5v4.3M67 456.5h-4.3M209.5 598.5v4.3M67 446.5h-8.4M219.5 598.5v8.4M67 436.5h-4.3M229.5 598.5v4.3M67 426.5h-4.3M239.5 598.5v4.3M67 416.5h-4.3M249.5 598.5v4.3M67 406.5h-4.3M259.5 598.5v4.3M67 396.5h-8.4M270.5 598.5v8.4M67 386.5h-4.3M280.5 598.5v4.3M67 376.5h-4.3M290.5 598.5v4.3M67 365.5h-4.3M300.5 598.5v4.3M67 355.5h-4.3M310.5 598.5v4.3M67 345.5h-8.4M320.5 598.5v8.4" stroke="#cecece" stroke-width="1" fill="none"/>
<text x="54.4" y="603.4" text-anchor="end">0</text>
<text x="67" y="625.1" text-anchor="middle">0</text>
<text x="54.4" y="552.84" text-anchor="end">1000</text>
<text x="117.76" y="625.1" text-anchor="middle">1</text>
<text x="54.4" y="502.28" text-anchor="end">2000</text>
<text x="168.52" y="625.1" text-anchor="middle">2</text>
<text x="54.4" y="451.72" text-anchor="end">3000</text>
<text x="219.28" y="625.1" text-anchor="middle">3</text>
<text x="54.4" y="401.16" text-anchor="end">4000</text>
<text x="270.04" y="625.1" text-anchor="middle">4</text>
<text x="54.4" y="350.6" text-anchor="end">5000</text>
<text x="320.8" y="625.1" text-anchor="middle">5</text>
<text x="193.9" y="641.9" text-anchor="middle" letter-spacing="0.1">Axial strain (%)</text>
<text transform="translate(18.2 470.6) rotate(-90)" text-anchor="middle" letter-spacing="0.07">Unconfined compressive stress (kPa)</text>
<path d="M67 598.5C67.03 597.7 66.98 594.96 67.2 593.5C67.42 592.04 67.95 590.76 68.4 589.4C68.85 588.04 69.49 586.7 70 585C70.51 583.3 70.96 581.3 71.6 578.8C72.24 576.3 73.07 572.82 74 569.4C74.93 565.98 76.34 561.24 77.4 557.4C78.46 553.56 79.48 549.72 80.6 545.4C81.72 541.08 83.02 535.58 84.4 530.4C85.78 525.22 87.66 518.82 89.2 513C90.74 507.18 92.37 500.18 94 494C95.63 487.82 97.74 480.77 99.4 474.4C101.06 468.03 102.86 460.5 104.4 454.2C105.94 447.9 107.56 440.79 109 435C110.44 429.21 111.9 423.6 113.4 418C114.9 412.4 116.93 405.28 118.4 400C119.87 394.72 121.48 389.1 122.6 385C123.72 380.9 124.28 376.42 125.4 374.4C126.52 372.38 128.26 372.56 129.6 372.4C130.94 372.24 132.42 370.42 133.8 373.4C135.18 376.38 136.57 384.47 138.2 391C139.83 397.53 142.66 406.36 144 414.2C145.34 422.04 145.96 431.04 146.6 440C147.24 448.96 147.46 460.6 148 470.2C148.54 479.8 149.2 491.94 150 500C150.8 508.06 151.46 513.94 153 520.6C154.54 527.26 157.36 535.55 159.6 541.6C161.84 547.65 164.38 553.86 167 558.4C169.62 562.94 174.02 567.12 176 570C177.98 572.88 178.06 574.9 179.4 576.4C180.74 577.9 182.48 578.5 184.4 579.4C186.32 580.3 189.32 581.04 191.4 582C193.48 582.96 195.93 584.38 197.4 585.4C198.87 586.42 199.29 587.44 200.6 588.4C201.91 589.36 204.22 590.41 205.6 591.4C206.98 592.39 208.62 594.09 209.2 594.6" class="ln"/>
<circle cx="67.2" cy="593.5" r="3.12" fill="#0000ff"/><circle cx="68.4" cy="589.4" r="3.12" fill="#0000ff"/><circle cx="70" cy="585" r="3.12" fill="#0000ff"/><circle cx="71.6" cy="578.8" r="3.12" fill="#0000ff"/><circle cx="74" cy="569.4" r="3.12" fill="#0000ff"/><circle cx="77.4" cy="557.4" r="3.12" fill="#0000ff"/><circle cx="80.6" cy="545.4" r="3.12" fill="#0000ff"/><circle cx="84.4" cy="530.4" r="3.12" fill="#0000ff"/><circle cx="89.2" cy="513" r="3.12" fill="#0000ff"/><circle cx="94" cy="494" r="3.12" fill="#0000ff"/><circle cx="99.4" cy="474.4" r="3.12" fill="#0000ff"/><circle cx="104.4" cy="454.2" r="3.12" fill="#0000ff"/><circle cx="109" cy="435" r="3.12" fill="#0000ff"/><circle cx="113.4" cy="418" r="3.12" fill="#0000ff"/><circle cx="118.4" cy="400" r="3.12" fill="#0000ff"/><circle cx="122.6" cy="385" r="3.12" fill="#0000ff"/><circle cx="125.4" cy="374.4" r="3.12" fill="#0000ff"/><circle cx="133.8" cy="373.4" r="3.12" fill="#0000ff"/><circle cx="138.2" cy="391" r="3.12" fill="#0000ff"/><circle cx="144" cy="414.2" r="3.12" fill="#0000ff"/><circle cx="148" cy="470.2" r="3.12" fill="#0000ff"/><circle cx="153" cy="520.6" r="3.12" fill="#0000ff"/><circle cx="159.6" cy="541.6" r="3.12" fill="#0000ff"/><circle cx="167" cy="558.4" r="3.12" fill="#0000ff"/><circle cx="176" cy="570" r="3.12" fill="#0000ff"/><circle cx="179.4" cy="576.4" r="3.12" fill="#0000ff"/><circle cx="184.4" cy="579.4" r="3.12" fill="#0000ff"/><circle cx="191.4" cy="582" r="3.12" fill="#0000ff"/><circle cx="197.4" cy="585.4" r="3.12" fill="#0000ff"/><circle cx="200.6" cy="588.4" r="3.12" fill="#0000ff"/><circle cx="205.6" cy="591.4" r="3.12" fill="#0000ff"/><circle cx="209.2" cy="594.6" r="3.12" fill="#0000ff"/>
<path d="M67 598.5C67.96 597.38 70.92 593.66 73 591.5C75.08 589.34 77.6 587.26 80 585C82.4 582.74 85.5 579.8 88 577.4C90.5 575 92.66 572.78 95.6 570C98.54 567.22 103.46 562.94 106.4 560C109.34 557.06 111.73 553.94 114 551.6C116.27 549.26 118.46 547.35 120.6 545.4C122.74 543.45 125.32 541.38 127.4 539.4C129.48 537.42 131.58 535.05 133.6 533C135.62 530.95 137.76 529 140 526.6C142.24 524.2 145.14 520.34 147.6 518C150.06 515.66 152.94 514.14 155.4 512C157.86 509.86 160.57 506.62 163 504.6C165.43 502.58 168.14 500.87 170.6 499.4C173.06 497.93 175.94 496.68 178.4 495.4C180.86 494.12 183.5 492.49 186 491.4C188.5 490.31 191.6 489.21 194 488.6C196.4 487.99 198.28 487.63 201 487.6C203.72 487.57 207.74 487.79 211 488.4C214.26 489.01 218.14 489.96 221.4 491.4C224.66 492.84 228.58 495.54 231.4 497.4C234.22 499.26 236.25 500.82 239 503C241.75 505.18 246.14 508.92 248.6 511C251.06 513.08 252.26 513.76 254.4 516C256.54 518.24 259.57 522.54 262 525C264.43 527.46 267.2 529.1 269.6 531.4C272 533.7 274.63 537.16 277 539.4C279.37 541.64 281.94 543.54 284.4 545.4C286.86 547.26 289.49 549.14 292.4 551C295.31 552.86 299.72 555.18 302.6 557C305.48 558.82 307.55 560.74 310.4 562.4C313.25 564.06 318.8 566.6 320.4 567.4" class="ln"/>
<circle cx="80" cy="585" r="3.1" class="om"/><circle cx="88" cy="577.4" r="3.1" class="om"/><circle cx="95.6" cy="570" r="3.1" class="om"/><circle cx="106.4" cy="560" r="3.1" class="om"/><circle cx="114" cy="551.6" r="3.1" class="om"/><circle cx="120.6" cy="545.4" r="3.1" class="om"/><circle cx="127.4" cy="539.4" r="3.1" class="om"/><circle cx="133.6" cy="533" r="3.1" class="om"/><circle cx="140" cy="526.6" r="3.1" class="om"/><circle cx="147.6" cy="518" r="3.1" class="om"/><circle cx="155.4" cy="512" r="3.1" class="om"/><circle cx="163" cy="504.6" r="3.1" class="om"/><circle cx="170.6" cy="499.4" r="3.1" class="om"/><circle cx="178.4" cy="495.4" r="3.1" class="om"/><circle cx="186" cy="491.4" r="3.1" class="om"/><circle cx="201" cy="487.6" r="3.1" class="om"/><circle cx="221.4" cy="491.4" r="3.1" class="om"/><circle cx="231.4" cy="497.4" r="3.1" class="om"/><circle cx="239" cy="503" r="3.1" class="om"/><circle cx="248.6" cy="511" r="3.1" class="om"/><circle cx="254.4" cy="516" r="3.1" class="om"/><circle cx="262" cy="525" r="3.1" class="om"/><circle cx="269.6" cy="531.4" r="3.1" class="om"/><circle cx="277" cy="539.4" r="3.1" class="om"/><circle cx="284.4" cy="545.4" r="3.1" class="om"/><circle cx="292.4" cy="551" r="3.1" class="om"/><circle cx="302.6" cy="557" r="3.1" class="om"/><circle cx="310.4" cy="562.4" r="3.1" class="om"/><circle cx="320.4" cy="567.4" r="3.1" class="om"/>
<path d="M67 598.5C67.24 597.86 66.9 595.76 68.5 594.5C70.1 593.24 74.36 592.02 77 590.6C79.64 589.18 82.28 587.52 85 585.6C87.72 583.68 91.12 580.68 94 578.6C96.88 576.52 99.9 574.78 103 572.6C106.1 570.42 110.26 567.34 113.4 565C116.54 562.66 119.66 560.14 122.6 558C125.54 555.86 128.7 553.84 131.8 551.6C134.9 549.36 138.93 546.24 142 544C145.07 541.76 148.44 539.36 151 537.6C153.56 535.84 155.7 534.6 158 533C160.3 531.4 163.38 529.14 165.4 527.6C167.42 526.06 168.9 524.62 170.6 523.4C172.3 522.18 173.95 521.44 176 520C178.05 518.56 181 516.1 183.4 514.4C185.8 512.7 188.18 510.81 191 509.4C193.82 507.99 197.32 506.69 201 505.6C204.68 504.51 209.94 503.24 214 502.6C218.06 501.96 222.72 501.57 226.4 501.6C230.08 501.63 233.77 502.19 237 502.8C240.23 503.41 243.82 504.57 246.6 505.4C249.38 506.23 251.94 506.72 254.4 508C256.86 509.28 259.57 511.29 262 513.4C264.43 515.51 267.2 518.32 269.6 521.2C272 524.08 274.6 528.55 277 531.4C279.4 534.25 281.78 536.76 284.6 539C287.42 541.24 291.75 543.54 294.6 545.4C297.45 547.26 299.94 549.16 302.4 550.6C304.86 552.04 307.18 553.15 310 554.4C312.82 555.65 318.4 557.76 320 558.4" class="ln"/>
<rect x="65.4" y="591.4" width="6.2" height="6.2" fill="#0000ff"/><rect x="73.9" y="587.5" width="6.2" height="6.2" fill="#0000ff"/><rect x="81.9" y="582.5" width="6.2" height="6.2" fill="#0000ff"/><rect x="90.9" y="575.5" width="6.2" height="6.2" fill="#0000ff"/><rect x="99.9" y="569.5" width="6.2" height="6.2" fill="#0000ff"/><rect x="110.3" y="561.9" width="6.2" height="6.2" fill="#0000ff"/><rect x="119.5" y="554.9" width="6.2" height="6.2" fill="#0000ff"/><rect x="128.7" y="548.5" width="6.2" height="6.2" fill="#0000ff"/><rect x="138.9" y="540.9" width="6.2" height="6.2" fill="#0000ff"/><rect x="147.9" y="534.5" width="6.2" height="6.2" fill="#0000ff"/><rect x="154.9" y="529.9" width="6.2" height="6.2" fill="#0000ff"/><rect x="162.3" y="524.5" width="6.2" height="6.2" fill="#0000ff"/><rect x="167.5" y="520.3" width="6.2" height="6.2" fill="#0000ff"/><rect x="172.9" y="516.9" width="6.2" height="6.2" fill="#0000ff"/><rect x="180.3" y="511.3" width="6.2" height="6.2" fill="#0000ff"/><rect x="187.9" y="506.3" width="6.2" height="6.2" fill="#0000ff"/><rect x="197.9" y="502.5" width="6.2" height="6.2" fill="#0000ff"/><rect x="223.3" y="498.5" width="6.2" height="6.2" fill="#0000ff"/><rect x="243.5" y="502.3" width="6.2" height="6.2" fill="#0000ff"/><rect x="251.3" y="504.9" width="6.2" height="6.2" fill="#0000ff"/><rect x="258.9" y="510.3" width="6.2" height="6.2" fill="#0000ff"/><rect x="266.5" y="518.1" width="6.2" height="6.2" fill="#0000ff"/><rect x="273.9" y="528.3" width="6.2" height="6.2" fill="#0000ff"/><rect x="281.5" y="535.9" width="6.2" height="6.2" fill="#0000ff"/><rect x="291.5" y="542.3" width="6.2" height="6.2" fill="#0000ff"/><rect x="299.3" y="547.5" width="6.2" height="6.2" fill="#0000ff"/><rect x="306.9" y="551.3" width="6.2" height="6.2" fill="#0000ff"/><rect x="316.9" y="555.3" width="6.2" height="6.2" fill="#0000ff"/>
<path d="M67 598.5C67.96 597.94 70.82 596.2 73 595C75.18 593.8 77.4 592.7 80.6 591C83.8 589.3 89 586.54 93 584.4C97 582.26 101.6 579.74 105.6 577.6C109.6 575.46 114.19 573.11 118 571C121.81 568.89 125.78 566.38 129.4 564.4C133.02 562.42 137.05 560.52 140.6 558.6C144.15 556.68 148.08 554.32 151.6 552.4C155.12 550.48 159.18 548.33 162.6 546.6C166.02 544.87 169.58 543.23 173 541.6C176.42 539.97 180.58 538.02 184 536.4C187.42 534.78 191.26 533.07 194.4 531.5C197.54 529.93 200.24 528.06 203.6 526.6C206.96 525.14 211.66 523.78 215.4 522.4C219.14 521.02 223.38 519.34 227 518C230.62 516.66 234.48 515.18 238 514C241.52 512.82 245.38 511.56 249 510.6C252.62 509.64 256.86 508.74 260.6 508C264.34 507.26 268.91 506.38 272.4 506C275.89 505.62 279.33 505.6 282.4 505.6C285.47 505.6 289.26 505.78 291.6 506C293.94 506.22 295.08 506.52 297 507C298.92 507.48 301.62 508.14 303.6 509C305.58 509.86 307.42 511.22 309.4 512.4C311.38 513.58 314.18 515.25 316 516.4C317.82 517.55 320.03 519.09 320.8 519.6" class="ln"/>
<rect x="63.75" y="595.25" width="6.5" height="6.5" class="om"/><rect x="69.75" y="591.75" width="6.5" height="6.5" class="om"/><rect x="77.35" y="587.75" width="6.5" height="6.5" class="om"/><rect x="89.75" y="581.15" width="6.5" height="6.5" class="om"/><rect x="102.35" y="574.35" width="6.5" height="6.5" class="om"/><rect x="114.75" y="567.75" width="6.5" height="6.5" class="om"/><rect x="126.15" y="561.15" width="6.5" height="6.5" class="om"/><rect x="137.35" y="555.35" width="6.5" height="6.5" class="om"/><rect x="148.35" y="549.15" width="6.5" height="6.5" class="om"/><rect x="159.35" y="543.35" width="6.5" height="6.5" class="om"/><rect x="169.75" y="538.35" width="6.5" height="6.5" class="om"/><rect x="180.75" y="533.15" width="6.5" height="6.5" class="om"/><rect x="191.15" y="528.25" width="6.5" height="6.5" class="om"/><rect x="200.35" y="523.35" width="6.5" height="6.5" class="om"/><rect x="212.15" y="519.15" width="6.5" height="6.5" class="om"/><rect x="223.75" y="514.75" width="6.5" height="6.5" class="om"/><rect x="234.75" y="510.75" width="6.5" height="6.5" class="om"/><rect x="245.75" y="507.35" width="6.5" height="6.5" class="om"/><rect x="257.35" y="504.75" width="6.5" height="6.5" class="om"/><rect x="269.15" y="502.75" width="6.5" height="6.5" class="om"/><rect x="279.15" y="502.35" width="6.5" height="6.5" class="om"/><rect x="288.35" y="502.75" width="6.5" height="6.5" class="om"/><rect x="293.75" y="503.75" width="6.5" height="6.5" class="om"/><rect x="300.35" y="505.75" width="6.5" height="6.5" class="om"/><rect x="306.15" y="509.15" width="6.5" height="6.5" class="om"/><rect x="312.75" y="513.15" width="6.5" height="6.5" class="om"/>
<text x="208" y="368.6">30% FA at 7 days</text>
<path d="M207.8 382.5h7" class="ll"/>
<path d="M222.2 382.5h5.3" class="lr"/>
<circle cx="217.6" cy="382.5" r="3.7" fill="#0000ff"/>
<text x="232.6" y="387.6">0%</text>
<text x="264.6" y="387.6">MNRL</text>
<path d="M207.8 401.5h7" class="ll"/>
<path d="M222.2 401.5h5.3" class="lr"/>
<circle cx="217.6" cy="401.5" r="3.65" class="om"/>
<text x="232.6" y="406.6">5%</text>
<text x="264.6" y="406.6">MNRL</text>
<path d="M207.8 420.5h7" class="ll"/>
<path d="M222.2 420.5h5.3" class="lr"/>
<rect x="213.9" y="416.8" width="7.4" height="7.4" fill="#0000ff"/>
<text x="232.6" y="425.6">7%</text>
<text x="264.6" y="425.6">MNRL</text>
<path d="M207.8 439.5h7" class="ll"/>
<path d="M222.2 439.5h5.3" class="lr"/>
<rect x="214" y="435.9" width="7.2" height="7.2" class="om"/>
<text x="232.9" y="444.6">10%</text>
<text x="264.6" y="444.6">MNRL</text></g>
<g><rect x="428.5" y="348.5" width="253" height="253" fill="none" stroke="#cecece" stroke-width="1"/>
<path d="M428.5 601.5h-8.4M428.5 601.5v8.4M428.5 591.5h-4.3M438.5 601.5v4.3M428.5 581.5h-4.3M448.5 601.5v4.3M428.5 571.5h-4.3M458.5 601.5v4.3M428.5 561.5h-4.3M468.5 601.5v4.3M428.5 550.5h-8.4M479.5 601.5v8.4M428.5 540.5h-4.3M489.5 601.5v4.3M428.5 530.5h-4.3M499.5 601.5v4.3M428.5 520.5h-4.3M509.5 601.5v4.3M428.5 510.5h-4.3M519.5 601.5v4.3M428.5 500.5h-8.4M529.5 601.5v8.4M428.5 490.5h-4.3M539.5 601.5v4.3M428.5 480.5h-4.3M549.5 601.5v4.3M428.5 469.5h-4.3M560.5 601.5v4.3M428.5 459.5h-4.3M570.5 601.5v4.3M428.5 449.5h-8.4M580.5 601.5v8.4M428.5 439.5h-4.3M590.5 601.5v4.3M428.5 429.5h-4.3M600.5 601.5v4.3M428.5 419.5h-4.3M610.5 601.5v4.3M428.5 409.5h-4.3M620.5 601.5v4.3M428.5 399.5h-8.4M630.5 601.5v8.4M428.5 388.5h-4.3M641.5 601.5v4.3M428.5 378.5h-4.3M651.5 601.5v4.3M428.5 368.5h-4.3M661.5 601.5v4.3M428.5 358.5h-4.3M671.5 601.5v4.3M428.5 348.5h-8.4M681.5 601.5v8.4" stroke="#cecece" stroke-width="1" fill="none"/>
<text x="415.9" y="606.4" text-anchor="end">0</text>
<text x="428.5" y="628.1" text-anchor="middle">0</text>
<text x="415.9" y="555.8" text-anchor="end">1000</text>
<text x="479.1" y="628.1" text-anchor="middle">1</text>
<text x="415.9" y="505.2" text-anchor="end">2000</text>
<text x="529.7" y="628.1" text-anchor="middle">2</text>
<text x="415.9" y="454.6" text-anchor="end">3000</text>
<text x="580.3" y="628.1" text-anchor="middle">3</text>
<text x="415.9" y="404" text-anchor="end">4000</text>
<text x="630.9" y="628.1" text-anchor="middle">4</text>
<text x="415.9" y="353.4" text-anchor="end">5000</text>
<text x="681.5" y="628.1" text-anchor="middle">5</text>
<text x="555" y="644.9" text-anchor="middle" letter-spacing="0.1">Axial strain (%)</text>
<text transform="translate(379.7 473.5) rotate(-90)" text-anchor="middle" letter-spacing="0.07">Unconfined compressive stress (kPa)</text>
<path d="M428.5 601.5C429 600.46 430.4 597.48 431.6 595C432.8 592.52 434.5 589.01 436 586C437.5 582.99 439.59 578.84 441 576.2C442.41 573.56 443.46 572.03 444.8 569.5C446.14 566.97 448.09 562.93 449.4 560.4C450.71 557.87 452.04 555.6 453 553.7C453.96 551.8 454.31 550.68 455.4 548.5C456.49 546.32 458.58 542.47 459.8 540.1C461.02 537.73 461.85 535.92 463 533.7C464.15 531.48 465.85 528.34 467 526.2C468.15 524.06 468.98 522.73 470.2 520.3C471.42 517.87 473.1 514.02 474.6 511C476.1 507.98 478.16 504.31 479.6 501.4C481.04 498.49 482.38 495.33 483.6 492.8C484.82 490.27 485.95 487.87 487.2 485.6C488.45 483.33 490.28 480.78 491.4 478.6C492.52 476.42 493.11 473.66 494.2 472C495.29 470.34 496.7 468.84 498.2 468.2C499.7 467.56 501.55 465.22 503.6 468C505.65 470.78 509.34 481.12 511 485.6C512.66 490.08 513.12 490.5 514 496C514.88 501.5 515.78 512.16 516.5 520C517.22 527.84 517.62 538.95 518.5 545C519.38 551.05 520.58 553.43 522 557.8C523.42 562.17 525.96 567.79 527.4 572.3C528.84 576.81 529.53 581.38 531 586C532.47 590.62 535.7 598.77 536.6 601.2" class="ln"/>
<circle cx="431.6" cy="595" r="3.12" fill="#0000ff"/><circle cx="436" cy="586" r="3.12" fill="#0000ff"/><circle cx="441" cy="576.2" r="3.12" fill="#0000ff"/><circle cx="444.8" cy="569.5" r="3.12" fill="#0000ff"/><circle cx="449.4" cy="560.4" r="3.12" fill="#0000ff"/><circle cx="453" cy="553.7" r="3.12" fill="#0000ff"/><circle cx="455.4" cy="548.5" r="3.12" fill="#0000ff"/><circle cx="459.8" cy="540.1" r="3.12" fill="#0000ff"/><circle cx="463" cy="533.7" r="3.12" fill="#0000ff"/><circle cx="467" cy="526.2" r="3.12" fill="#0000ff"/><circle cx="470.2" cy="520.3" r="3.12" fill="#0000ff"/><circle cx="474.6" cy="511" r="3.12" fill="#0000ff"/><circle cx="479.6" cy="501.4" r="3.12" fill="#0000ff"/><circle cx="483.6" cy="492.8" r="3.12" fill="#0000ff"/><circle cx="487.2" cy="485.6" r="3.12" fill="#0000ff"/><circle cx="491.4" cy="478.6" r="3.12" fill="#0000ff"/><circle cx="494.2" cy="472" r="3.12" fill="#0000ff"/><circle cx="498.2" cy="468.2" r="3.12" fill="#0000ff"/><circle cx="503.6" cy="468" r="3.12" fill="#0000ff"/><circle cx="511" cy="485.6" r="3.12" fill="#0000ff"/><circle cx="522" cy="557.8" r="3.12" fill="#0000ff"/><circle cx="527.4" cy="572.3" r="3.12" fill="#0000ff"/><circle cx="531" cy="586" r="3.12" fill="#0000ff"/><circle cx="536.6" cy="601.2" r="3.12" fill="#0000ff"/>
<path d="M428.5 601.5C429.22 600.7 431.32 598.02 433 596.5C434.68 594.98 436.6 594 439 592C441.4 590 444.96 586.56 448 584C451.04 581.44 455.12 578.35 458 576C460.88 573.65 463.34 571.54 466 569.3C468.66 567.06 471.56 564.61 474.6 562C477.64 559.39 481.42 556.14 485 553C488.58 549.86 493.58 545.38 497 542.4C500.42 539.42 503.3 536.99 506.4 534.4C509.5 531.81 513.81 528.39 516.4 526.2C518.99 524.01 520.81 522.24 522.6 520.7C524.39 519.16 526 517.9 527.6 516.6C529.2 515.3 531 513.91 532.6 512.6C534.2 511.29 536 509.78 537.6 508.4C539.2 507.02 540.86 505.22 542.6 504C544.34 502.78 546.61 501.57 548.5 500.8C550.39 500.03 551.82 499.42 554.4 499.2C556.98 498.98 560.89 498.79 564.6 499.4C568.31 500.01 573.44 501.3 577.6 503C581.76 504.7 586.63 506.96 590.6 510C594.57 513.04 598.43 517.9 602.4 522C606.37 526.1 611.37 531.02 615.4 535.6C619.43 540.18 623.66 546.06 627.6 550.6C631.54 555.14 635.94 559.78 640 564C644.06 568.22 648.9 572.94 653 577C657.1 581.06 661.6 586.68 665.6 589.4C669.6 592.12 675.46 593.1 678 594C680.54 594.9 680.94 594.84 681.5 595" class="ln"/>
<circle cx="439" cy="592" r="3.1" class="om"/><circle cx="448" cy="584" r="3.1" class="om"/><circle cx="458" cy="576" r="3.1" class="om"/><circle cx="466" cy="569.3" r="3.1" class="om"/><circle cx="474.6" cy="562" r="3.1" class="om"/><circle cx="485" cy="553" r="3.1" class="om"/><circle cx="497" cy="542.4" r="3.1" class="om"/><circle cx="506.4" cy="534.4" r="3.1" class="om"/><circle cx="516.4" cy="526.2" r="3.1" class="om"/><circle cx="522.6" cy="520.7" r="3.1" class="om"/><circle cx="527.6" cy="516.6" r="3.1" class="om"/><circle cx="532.6" cy="512.6" r="3.1" class="om"/><circle cx="537.6" cy="508.4" r="3.1" class="om"/><circle cx="542.6" cy="504" r="3.1" class="om"/><circle cx="548.5" cy="500.8" r="3.1" class="om"/><circle cx="554.4" cy="499.2" r="3.1" class="om"/><circle cx="564.6" cy="499.4" r="3.1" class="om"/><circle cx="577.6" cy="503" r="3.1" class="om"/><circle cx="590.6" cy="510" r="3.1" class="om"/><circle cx="602.4" cy="522" r="3.1" class="om"/><circle cx="615.4" cy="535.6" r="3.1" class="om"/><circle cx="627.6" cy="550.6" r="3.1" class="om"/><circle cx="640" cy="564" r="3.1" class="om"/><circle cx="653" cy="577" r="3.1" class="om"/><circle cx="665.6" cy="589.4" r="3.1" class="om"/><circle cx="678" cy="594" r="3.1" class="om"/>
<path d="M428.5 601.5C430.72 599.82 438 594.12 442.4 591C446.8 587.88 451.74 585.07 456 582C460.26 578.93 465 574.78 469 571.8C473 568.82 476.78 566.41 481 563.4C485.22 560.39 490.66 556.46 495.4 553C500.14 549.54 506.02 545.06 510.6 541.8C515.18 538.54 519.94 535.38 524 532.6C528.06 529.82 533.12 526.37 536 524.4C538.88 522.43 540.03 521.48 542 520.3C543.97 519.12 546.25 518.04 548.3 517C550.35 515.96 552.7 514.82 554.8 513.8C556.9 512.78 559.38 511.46 561.4 510.6C563.42 509.74 565.13 509.04 567.4 508.4C569.67 507.76 572.88 506.82 575.6 506.6C578.32 506.38 581.84 506.62 584.4 507C586.96 507.38 589.17 508.26 591.6 509C594.03 509.74 597.07 510.54 599.6 511.6C602.13 512.66 605.26 514.26 607.4 515.6C609.54 516.94 611.14 518.34 613 520C614.86 521.66 617.14 523.92 619 526C620.86 528.08 622.74 530.76 624.6 533C626.46 535.24 628.84 537.76 630.6 540C632.36 542.24 633.84 544.54 635.6 547C637.36 549.46 639.68 552.9 641.6 555.4C643.52 557.9 645.62 560.52 647.6 562.6C649.58 564.68 652.02 566.64 654 568.4C655.98 570.16 657.82 572.13 660 573.6C662.18 575.07 665.2 576.51 667.6 577.6C670 578.69 672.76 579.6 675 580.4C677.24 581.2 680.54 582.25 681.6 582.6" class="ln"/>
<rect x="439.3" y="587.9" width="6.2" height="6.2" fill="#0000ff"/><rect x="452.9" y="578.9" width="6.2" height="6.2" fill="#0000ff"/><rect x="465.9" y="568.7" width="6.2" height="6.2" fill="#0000ff"/><rect x="477.9" y="560.3" width="6.2" height="6.2" fill="#0000ff"/><rect x="492.3" y="549.9" width="6.2" height="6.2" fill="#0000ff"/><rect x="507.5" y="538.7" width="6.2" height="6.2" fill="#0000ff"/><rect x="520.9" y="529.5" width="6.2" height="6.2" fill="#0000ff"/><rect x="532.9" y="521.3" width="6.2" height="6.2" fill="#0000ff"/><rect x="538.9" y="517.2" width="6.2" height="6.2" fill="#0000ff"/><rect x="545.2" y="513.9" width="6.2" height="6.2" fill="#0000ff"/><rect x="551.7" y="510.7" width="6.2" height="6.2" fill="#0000ff"/><rect x="558.3" y="507.5" width="6.2" height="6.2" fill="#0000ff"/><rect x="564.3" y="505.3" width="6.2" height="6.2" fill="#0000ff"/><rect x="572.5" y="503.5" width="6.2" height="6.2" fill="#0000ff"/><rect x="581.3" y="503.9" width="6.2" height="6.2" fill="#0000ff"/><rect x="588.5" y="505.9" width="6.2" height="6.2" fill="#0000ff"/><rect x="596.5" y="508.5" width="6.2" height="6.2" fill="#0000ff"/><rect x="604.3" y="512.5" width="6.2" height="6.2" fill="#0000ff"/><rect x="609.9" y="516.9" width="6.2" height="6.2" fill="#0000ff"/><rect x="615.9" y="522.9" width="6.2" height="6.2" fill="#0000ff"/><rect x="621.5" y="529.9" width="6.2" height="6.2" fill="#0000ff"/><rect x="627.5" y="536.9" width="6.2" height="6.2" fill="#0000ff"/><rect x="632.5" y="543.9" width="6.2" height="6.2" fill="#0000ff"/><rect x="638.5" y="552.3" width="6.2" height="6.2" fill="#0000ff"/><rect x="644.5" y="559.5" width="6.2" height="6.2" fill="#0000ff"/><rect x="650.9" y="565.3" width="6.2" height="6.2" fill="#0000ff"/><rect x="656.9" y="570.5" width="6.2" height="6.2" fill="#0000ff"/><rect x="664.5" y="574.5" width="6.2" height="6.2" fill="#0000ff"/><rect x="671.9" y="577.3" width="6.2" height="6.2" fill="#0000ff"/><rect x="678.5" y="579.5" width="6.2" height="6.2" fill="#0000ff"/>
<path d="M428.5 601.5C430.76 600.46 438.52 597 442.6 595C446.68 593 449.62 591.14 454 589C458.38 586.86 464.98 584 470 581.6C475.02 579.2 481.08 576.11 485.4 574C489.72 571.89 493.48 570.1 497 568.4C500.52 566.7 504.04 565 507.4 563.4C510.76 561.8 514.8 559.95 518 558.4C521.2 556.85 524.3 555.2 527.4 553.7C530.5 552.2 534.1 550.5 537.4 549C540.7 547.5 544.83 545.84 548 544.3C551.17 542.76 554.06 540.95 557.2 539.4C560.34 537.85 564.5 536.04 567.6 534.6C570.7 533.16 573.11 532.1 576.6 530.4C580.09 528.7 585.91 525.76 589.4 524C592.89 522.24 594.88 520.58 598.4 519.4C601.92 518.22 607.62 516.92 611.4 516.6C615.18 516.28 618.64 517.02 622 517.4C625.36 517.78 629.1 518.26 632.4 519C635.7 519.74 639.24 520.82 642.6 522C645.96 523.18 649.98 524.74 653.4 526.4C656.82 528.06 660.29 530.38 664 532.4C667.71 534.42 673.8 537.38 676.6 539C679.4 540.62 680.72 541.94 681.5 542.5" class="ln"/>
<rect x="425.25" y="598.25" width="6.5" height="6.5" class="om"/><rect x="439.35" y="591.75" width="6.5" height="6.5" class="om"/><rect x="450.75" y="585.75" width="6.5" height="6.5" class="om"/><rect x="466.75" y="578.35" width="6.5" height="6.5" class="om"/><rect x="482.15" y="570.75" width="6.5" height="6.5" class="om"/><rect x="493.75" y="565.15" width="6.5" height="6.5" class="om"/><rect x="504.15" y="560.15" width="6.5" height="6.5" class="om"/><rect x="514.75" y="555.15" width="6.5" height="6.5" class="om"/><rect x="524.15" y="550.45" width="6.5" height="6.5" class="om"/><rect x="534.15" y="545.75" width="6.5" height="6.5" class="om"/><rect x="544.75" y="541.05" width="6.5" height="6.5" class="om"/><rect x="553.95" y="536.15" width="6.5" height="6.5" class="om"/><rect x="564.35" y="531.35" width="6.5" height="6.5" class="om"/><rect x="573.35" y="527.15" width="6.5" height="6.5" class="om"/><rect x="586.15" y="520.75" width="6.5" height="6.5" class="om"/><rect x="595.15" y="516.15" width="6.5" height="6.5" class="om"/><rect x="608.15" y="513.35" width="6.5" height="6.5" class="om"/><rect x="618.75" y="514.15" width="6.5" height="6.5" class="om"/><rect x="629.15" y="515.75" width="6.5" height="6.5" class="om"/><rect x="639.35" y="518.75" width="6.5" height="6.5" class="om"/><rect x="650.15" y="523.15" width="6.5" height="6.5" class="om"/><rect x="660.75" y="529.15" width="6.5" height="6.5" class="om"/><rect x="673.35" y="535.75" width="6.5" height="6.5" class="om"/>
<text x="563" y="370.6">35% FA at 7 days</text>
<path d="M562.8 384.5h7" class="ll"/>
<path d="M577.2 384.5h5.3" class="lr"/>
<circle cx="572.6" cy="384.5" r="3.7" fill="#0000ff"/>
<text x="587.6" y="389.6">0%</text>
<text x="619.6" y="389.6">MNRL</text>
<path d="M562.8 403.5h7" class="ll"/>
<path d="M577.2 403.5h5.3" class="lr"/>
<circle cx="572.6" cy="403.5" r="3.65" class="om"/>
<text x="587.6" y="408.6">5%</text>
<text x="619.6" y="408.6">MNRL</text>
<path d="M562.8 422.5h7" class="ll"/>
<path d="M577.2 422.5h5.3" class="lr"/>
<rect x="568.9" y="418.8" width="7.4" height="7.4" fill="#0000ff"/>
<text x="587.6" y="427.6">7%</text>
<text x="619.6" y="427.6">MNRL</text>
<path d="M562.8 441.5h7" class="ll"/>
<path d="M577.2 441.5h5.3" class="lr"/>
<rect x="569" y="437.9" width="7.2" height="7.2" class="om"/>
<text x="587.9" y="446.6">10%</text>
<text x="619.6" y="446.6">MNRL</text></g>
</svg>
</body></html>
